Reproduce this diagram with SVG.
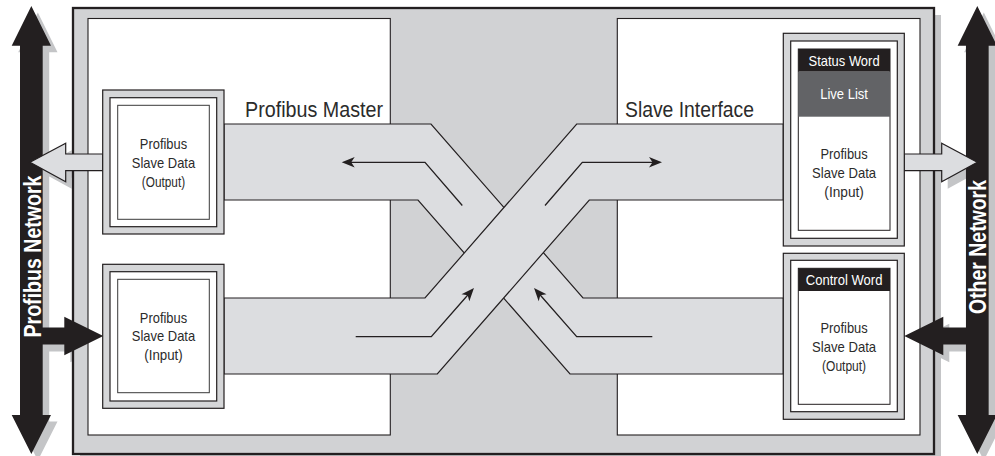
<svg xmlns="http://www.w3.org/2000/svg" width="995" height="456" viewBox="0 0 995 456">
<style>
  .dk{fill:#231f20}
  .sh{fill:#c4c5c7}
  .frame{fill:#d1d2d4;stroke:#231f20;stroke-width:2.3}
  .panel{fill:#ffffff;stroke:#231f20;stroke-width:1.1}
  .band{fill:#dcdde0;stroke:#231f20;stroke-width:1.2;stroke-linejoin:miter}
  .ring{fill:#d5d6d8;stroke:#231f20;stroke-width:1.2}
  .mid{fill:#ffffff;stroke:#231f20;stroke-width:1.2}
  .inner{fill:#ffffff;stroke:#3a3a3a;stroke-width:1}
  .hollow{fill:#dcdde0;stroke:#231f20;stroke-width:1.2}
  .flow{fill:none;stroke:#231f20;stroke-width:1.3}
  .t{font-family:"Liberation Sans",Arial,Helvetica,sans-serif;fill:#2b2b2b;text-anchor:middle}
  .n{font-size:14.5px}
  .hd{font-size:14.5px;fill:#ffffff}
  .big{font-size:21.5px;text-anchor:start}
  .net{font-size:24px;font-weight:bold;fill:#ffffff}
</style>
<defs>
  <marker id="ah" viewBox="-16 -7 18 14" markerWidth="18" markerHeight="14" refX="-8" refY="0" orient="auto" markerUnits="userSpaceOnUse">
    <path d="M0,0 L-13,-5.2 L-9.5,0 L-13,5.2 Z" fill="#231f20"/>
  </marker>
</defs>

<!-- shadows -->
<g id="shadows">
  <polygon class="sh" transform="translate(6.5,6.5)" points="31.35,6 51,45.7 42.7,45.7 42.7,415 51,415 31.35,454 11.7,415 20,415 20,45.7 11.7,45.7"/>
  <polygon class="sh" transform="translate(6.5,6.5)" points="977.3,6 996.95,45.7 988.65,45.7 988.65,415 996.95,415 977.3,454 957.65,415 965.95,415 965.95,45.7 957.65,45.7"/>
  <polygon class="sh" transform="translate(6,7)" points="102.7,154 65.7,154 65.7,143.3 30,162.3 65.7,181.7 65.7,170.7 102.7,170.7"/>
  <polygon class="sh" transform="translate(6,7)" points="904.3,154 941.7,154 941.7,143.3 977.3,162.3 941.7,181.7 941.7,170.7 904.3,170.7"/>
  <polygon class="sh" transform="translate(6,7)" points="42,327.5 64.3,327.5 64.3,316.7 103.3,336 64.3,355.3 64.3,344.5 42,344.5"/>
  <polygon class="sh" transform="translate(6,7)" points="966,327.5 943.3,327.5 943.3,316.7 904.3,336 943.3,355.3 943.3,344.5 966,344.5"/>
  <rect class="sh" x="80" y="15" width="861" height="446"/>
</g>

<!-- network bars -->
<g id="profibus-network">
  <polygon class="dk" points="31.35,6 51,45.7 42.7,45.7 42.7,415 51,415 31.35,454 11.7,415 20,415 20,45.7 11.7,45.7"/>
  <text class="t net" transform="translate(40.5,256.5) rotate(-90)" x="0" y="0" textLength="162" lengthAdjust="spacingAndGlyphs">Profibus Network</text>
</g>
<g id="other-network">
  <polygon class="dk" points="977.3,6 996.95,45.7 988.65,45.7 988.65,415 996.95,415 977.3,454 957.65,415 965.95,415 965.95,45.7 957.65,45.7"/>
  <text class="t net" transform="translate(985.5,247) rotate(-90)" x="0" y="0" textLength="134" lengthAdjust="spacingAndGlyphs">Other Network</text>
</g>

<!-- frame and panels -->
<g id="gateway">
  <rect class="frame" x="73" y="8" width="861" height="446"/>
  <rect class="panel" x="88" y="18.5" width="302.3" height="416.5"/>
  <rect class="panel" x="617.3" y="18.5" width="302.7" height="416.5"/>
</g>

<!-- connectors -->
<g id="connectors">
  <polygon class="band" points="224,124 431,124 583,298 783.3,298 783.3,374 570,374 418,200 224,200"/>
  <polygon class="band" points="783.3,124 576.7,124 425,298 224,298 224,374 437.3,374 589.3,200 783.3,200"/>
  <polyline class="flow" points="462.3,205.5 425,162.3 349.7,162.3" marker-end="url(#ah)"/>
  <polyline class="flow" points="652.3,336.7 576.7,336.7 539.3,294" marker-end="url(#ah)"/>
  <polyline class="flow" points="545,205.5 582.3,162.3 654,162.3" marker-end="url(#ah)"/>
  <polyline class="flow" points="355.7,336.7 431.3,336.7 468.7,294" marker-end="url(#ah)"/>
  <polygon class="hollow" points="102.7,154 65.7,154 65.7,143.3 30,162.3 65.7,181.7 65.7,170.7 102.7,170.7"/>
  <polygon class="hollow" points="904.3,154 941.7,154 941.7,143.3 977.3,162.3 941.7,181.7 941.7,170.7 904.3,170.7"/>
  <polygon class="dk" points="42,327.5 64.3,327.5 64.3,316.7 103.3,336 64.3,355.3 64.3,344.5 42,344.5"/>
  <polygon class="dk" points="966,327.5 943.3,327.5 943.3,316.7 904.3,336 943.3,355.3 943.3,344.5 966,344.5"/>
</g>

<!-- titles -->
<g id="titles">
  <text class="t big" x="245" y="117.3" textLength="138" lengthAdjust="spacingAndGlyphs">Profibus Master</text>
  <text class="t big" x="625" y="117.3" textLength="129" lengthAdjust="spacingAndGlyphs">Slave Interface</text>
</g>

<!-- nodes -->
<g id="master-output">
  <rect class="ring" x="102.7" y="90" width="121.3" height="144"/>
  <rect class="mid" x="110" y="97.7" width="106.7" height="129"/>
  <rect class="inner" x="117.7" y="105.3" width="91.6" height="114"/>
  <text class="t n" x="163.5" y="149" textLength="47.3" lengthAdjust="spacingAndGlyphs">Profibus</text>
  <text class="t n" x="163.5" y="168" textLength="63.3" lengthAdjust="spacingAndGlyphs">Slave Data</text>
  <text class="t n" x="163.5" y="187" textLength="43.3" lengthAdjust="spacingAndGlyphs">(Output)</text>
</g>
<g id="master-input">
  <rect class="ring" x="102.7" y="264.3" width="121.3" height="144"/>
  <rect class="mid" x="110" y="271.7" width="106.7" height="129.3"/>
  <rect class="inner" x="117.7" y="279.3" width="91.6" height="113.4"/>
  <text class="t n" x="163.5" y="322.7" textLength="47.3" lengthAdjust="spacingAndGlyphs">Profibus</text>
  <text class="t n" x="163.5" y="341.3" textLength="63.3" lengthAdjust="spacingAndGlyphs">Slave Data</text>
  <text class="t n" x="163.5" y="360" textLength="38.5" lengthAdjust="spacingAndGlyphs">(Input)</text>
</g>
<g id="slave-input">
  <rect class="ring" x="783.3" y="33.3" width="121" height="212.7"/>
  <rect class="mid" x="790.7" y="41" width="106.6" height="197.3"/>
  <rect class="inner" x="798.3" y="49" width="91.7" height="181.3" style="stroke:#231f20"/>
  <rect class="dk" x="798.3" y="49" width="91.7" height="22.7"/>
  <rect x="798.3" y="71.7" width="91.7" height="45" fill="#626366"/>
  <text class="t hd" x="844.1" y="66" textLength="71" lengthAdjust="spacingAndGlyphs">Status Word</text>
  <text class="t hd" x="844.1" y="99.3" textLength="47.7" lengthAdjust="spacingAndGlyphs">Live List</text>
  <text class="t n" x="844.1" y="159.3" textLength="47.3" lengthAdjust="spacingAndGlyphs">Profibus</text>
  <text class="t n" x="844.1" y="178.2" textLength="64" lengthAdjust="spacingAndGlyphs">Slave Data</text>
  <text class="t n" x="844.1" y="197" textLength="39.5" lengthAdjust="spacingAndGlyphs">(Input)</text>
</g>
<g id="slave-output">
  <rect class="ring" x="783.3" y="253.3" width="121" height="166"/>
  <rect class="mid" x="790.7" y="260.3" width="106.6" height="151.4"/>
  <rect class="inner" x="798.3" y="268.3" width="91.7" height="136" style="stroke:#231f20"/>
  <rect class="dk" x="798.3" y="268.3" width="91.7" height="22.7"/>
  <text class="t hd" x="844.1" y="284.8" textLength="76.6" lengthAdjust="spacingAndGlyphs">Control Word</text>
  <text class="t n" x="844.1" y="332.7" textLength="47.3" lengthAdjust="spacingAndGlyphs">Profibus</text>
  <text class="t n" x="844.1" y="351.7" textLength="64" lengthAdjust="spacingAndGlyphs">Slave Data</text>
  <text class="t n" x="844.1" y="370.7" textLength="44" lengthAdjust="spacingAndGlyphs">(Output)</text>
</g>
</svg>
